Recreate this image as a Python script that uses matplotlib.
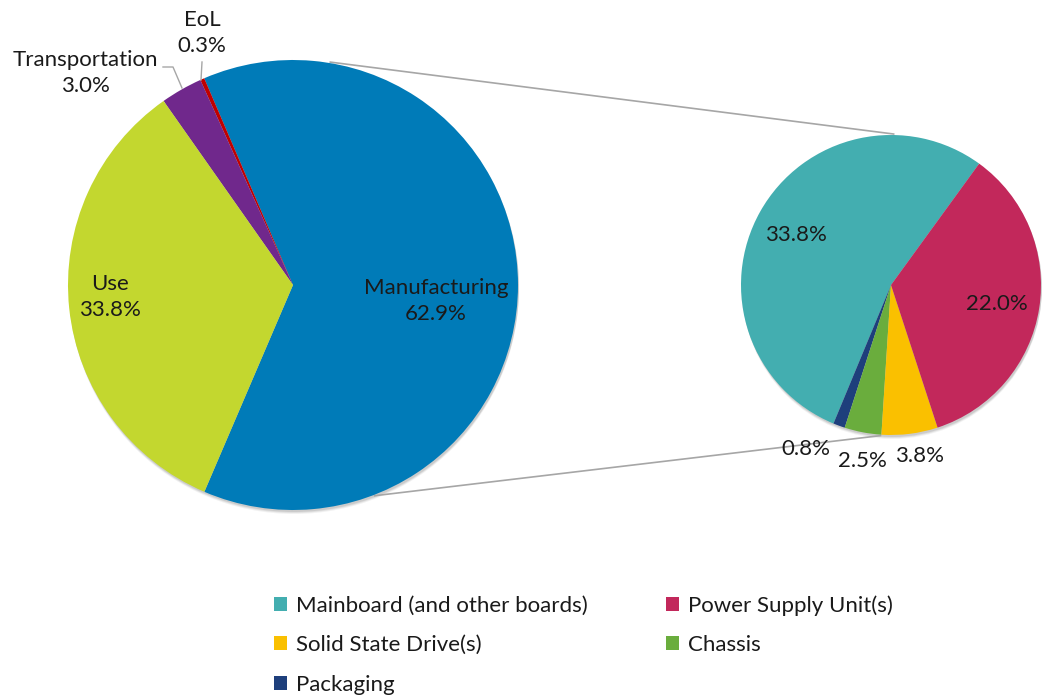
import numpy as np
import matplotlib.pyplot as plt
from matplotlib.patches import Patch, Circle

# life cycle stages (big pie), counter-clockwise order
stages = ['Manufacturing', 'EoL', 'Transportation', 'Use']
stage_share = [62.9, 0.3, 3.0, 33.8]
stage_colors = ['#007BB8', '#C00000', '#70288C', '#C3D72F']

# manufacturing breakdown (small pie), counter-clockwise order
parts = ['Mainboard (and other boards)', 'Packaging', 'Chassis',
         'Solid State Drive(s)', 'Power Supply Unit(s)']
part_share = [33.8, 0.8, 2.5, 3.8, 22.0]
part_colors = ['#43AEB0', '#1E3F7C', '#6AAD3D', '#FAC000', '#C2285B']

W, H = 1049, 696
plt.rcParams['font.family'] = ['Lato', 'DejaVu Sans']
FS = 16


def px(x, y):
    # image pixel coords -> data coords
    return x, H - y


fig = plt.figure(figsize=(W / 100, H / 100), dpi=100)
ax = fig.add_axes([0, 0, 1, 1])

big_c, big_r = px(293, 285), 225
small_c, small_r = px(891, 285), 150

# soft shadows
for c, r in [(big_c, big_r), (small_c, small_r)]:
    for k, a in [(4, 0.05), (3, 0.07), (2, 0.09)]:
        ax.add_patch(Circle((c[0] + 1, c[1] - k), r, color='black', alpha=a, lw=0, zorder=0))

ax.pie(stage_share, colors=stage_colors, startangle=246.8, counterclock=True,
       center=big_c, radius=big_r, wedgeprops=dict(linewidth=0), frame=True)
ax.pie(part_share, colors=part_colors, startangle=54, counterclock=True,
       center=small_c, radius=small_r, wedgeprops=dict(linewidth=0), frame=True)


# connector lines between the pies
def on_circle(c, r, deg):
    t = np.deg2rad(deg)
    return c[0] + r * np.cos(t), c[1] + r * np.sin(t)


for a_big, a_small in [(80.5, 89.0), (-68.8, -94.0)]:
    p1 = on_circle(big_c, big_r + 1, a_big)
    p2 = on_circle(small_c, small_r + 1, a_small)
    ax.plot([p1[0], p2[0]], [p1[1], p2[1]], color='#A6A6A6', lw=1.2, zorder=0.5)

# leader lines
lx, ly = zip(px(163, 67), px(173, 67), px(182, 88))
ax.plot(lx, ly, color='#A6A6A6', lw=1.0)
lx, ly = zip(px(202, 62), px(201, 80))
ax.plot(lx, ly, color='#A6A6A6', lw=1.0)

# labels
big_labels = [('Manufacturing\n62.9%', 436, 301), ('Use\n33.8%', 110, 297),
              ('Transportation\n3.0%', 85, 73), ('EoL\n0.3%', 202, 33)]
for txt, x, y in big_labels:
    ax.text(*px(x, y), txt, ha='center', va='center', fontsize=FS,
            linespacing=1.35, color='#1a1a1a')

small_labels = [('33.8%', 796, 235), ('22.0%', 997, 304), ('0.8%', 806, 449),
                ('2.5%', 862, 461), ('3.8%', 920, 456)]
for txt, x, y in small_labels:
    ax.text(*px(x, y), txt, ha='center', va='center', fontsize=FS, color='#1a1a1a')

# legend, row-major order like the original (legend fills column by column)
legend_order = [0, 3, 1, 4, 2]
handles = [Patch(facecolor=part_colors[i], label=parts[i]) for i in legend_order]
ax.legend(handles=handles, ncol=2, frameon=False, fontsize=FS,
          loc='upper left', bbox_to_anchor=(263 / W, 1 - 584 / H),
          bbox_transform=fig.transFigure, handlelength=0.6, handleheight=0.6,
          handletextpad=0.4, labelspacing=0.88, columnspacing=3.5, borderpad=0,
          labelcolor='#1a1a1a')

ax.set_xlim(0, W)
ax.set_ylim(0, H)
ax.set_aspect('equal')
ax.axis('off')

fig.savefig('out.png', dpi=100)
